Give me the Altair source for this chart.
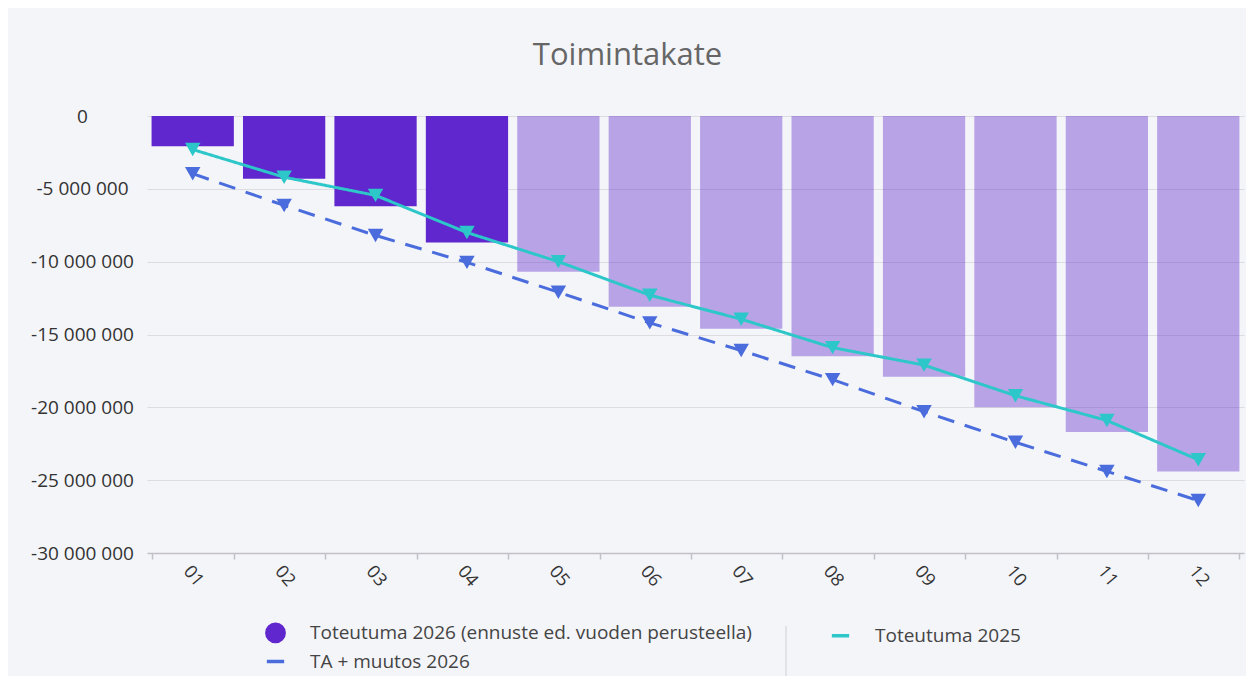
import altair as alt
import pandas as pd

months = ["01", "02", "03", "04", "05", "06", "07", "08", "09", "10", "11", "12"]
toteutuma_2026 = [-2070000, -4310000, -6200000, -8680000, -10700000, -13100000,
                  -14600000, -16500000, -17900000, -20000000, -21700000, -24400000]
is_actual = [True, True, True, True, False, False, False, False, False, False, False, False]
toteutuma_2025 = [-2300000, -4200000, -5450000, -8000000, -10000000, -12300000,
                  -13950000, -15900000, -17100000, -19200000, -20900000, -23600000]
ta_muutos_2026 = [-3960000, -6140000, -8200000, -10050000, -12100000, -14200000,
                  -16100000, -18100000, -20300000, -22400000, -24400000, -26400000]

S_BAR = "Toteutuma 2026 (ennuste ed. vuoden perusteella)"
S_2025 = "Toteutuma 2025"
S_TA = "TA + muutos 2026"
# legend fills column by column: first column holds the first two entries
series_order = [S_BAR, S_TA, S_2025]
series_colors = ["#5f27cd", "#4a6cdc", "#2ec7c9"]
series_shapes = ["circle", "stroke", "stroke"]

FONT = "Open Sans"

bars_df = pd.DataFrame({"month": months, "value": toteutuma_2026, "actual": is_actual,
                        "series": S_BAR})
bars_df["op"] = bars_df["actual"].map({True: 1.0, False: 0.4})
lines_df = pd.concat([
    pd.DataFrame({"month": months, "value": toteutuma_2025, "series": S_2025}),
    pd.DataFrame({"month": months, "value": ta_muutos_2026, "series": S_TA}),
])
legend_df = pd.DataFrame({"series": series_order})

x_enc = alt.X("month:N", sort=months, title=None,
              scale=alt.Scale(paddingInner=0.1, paddingOuter=0.05),
              axis=alt.Axis(labelAngle=50, labelAlign="center", labelBaseline="middle",
                            labelPadding=17, tickBand="extent", tickSize=6,
                            tickColor="#c0c0c6", tickWidth=1.5,
                            domainColor="#c0c0c6", domainWidth=1.5,
                            labelFontSize=18, labelColor="#333333", labelFont=FONT,
                            grid=False))
y_enc = alt.Y("value:Q", title=None,
              scale=alt.Scale(domain=[-30000000, 0], nice=False),
              axis=alt.Axis(values=[0, -5000000, -10000000, -15000000, -20000000,
                                    -25000000, -30000000],
                            labelExpr="(datum.value < 0 ? '-' : '') + replace(format(abs(datum.value), ','), regexp(',', 'g'), ' ')",
                            ticks=False, tickSize=0, domain=False, labelPadding=65,
                            labelAlign="center",
                            labelFontSize=19, labelColor="#333333", labelFont=FONT,
                            gridColor="#dcdce2", gridWidth=1))

leg = dict(title=None, orient="none", legendX=118, legendY=506, columns=2,
           columnPadding=72, rowPadding=2, labelFontSize=19, labelFont=FONT,
           labelColor="#444444", labelOffset=24, symbolSize=300, symbolStrokeWidth=3.5,
           padding=0, labelLimit=700)

# legend-only layer, drawn first so that the opaque first bar covers its marks
legend_layer = alt.Chart(legend_df).mark_point(filled=True, size=100, opacity=1).encode(
    x=alt.value(45), y=alt.value(12),
    color=alt.Color("series:N", scale=alt.Scale(domain=series_order, range=series_colors),
                    legend=alt.Legend(**leg)),
    shape=alt.Shape("series:N", scale=alt.Scale(domain=series_order, range=series_shapes),
                    legend=alt.Legend(**leg)),
)

bars = alt.Chart(bars_df).mark_bar().encode(
    x=x_enc, y=y_enc,
    color=alt.Color("series:N", legend=None),
    opacity=alt.Opacity("op:Q", scale=None, legend=None),
)

lines = alt.Chart(lines_df).mark_line(strokeWidth=3).encode(
    x=alt.X("month:N", sort=months),
    y="value:Q",
    color=alt.Color("series:N", legend=None),
    strokeDash=alt.StrokeDash("series:N",
                              scale=alt.Scale(domain=[S_2025, S_TA], range=[[1, 0], [17, 11]]),
                              legend=None),
)

points = alt.Chart(lines_df).mark_point(shape="triangle-down", filled=True, size=240,
                                        opacity=1).encode(
    x=alt.X("month:N", sort=months),
    y="value:Q",
    color=alt.Color("series:N", legend=None),
)

separator = alt.Chart(legend_df.head(1)).mark_rule(color="#cfcfd4", strokeWidth=1).encode(
    x=alt.value(639), y=alt.value(510), y2=alt.value(560)
)

chart = alt.layer(legend_layer, bars, lines, points, separator).properties(
    width=1097, height=437,
    title=alt.TitleParams("Toimintakate", anchor="middle", dx=-68, offset=35,
                          fontSize=31, color="#666666", fontWeight="normal", font=FONT),
    background="#f4f5f9",
    padding={"left": 139, "top": 108, "right": 2, "bottom": 123},
    autosize=alt.AutoSizeParams(type="none"),
).configure_view(stroke=None)

chart.save("out.html", embed_options={"renderer": "svg", "actions": False})
